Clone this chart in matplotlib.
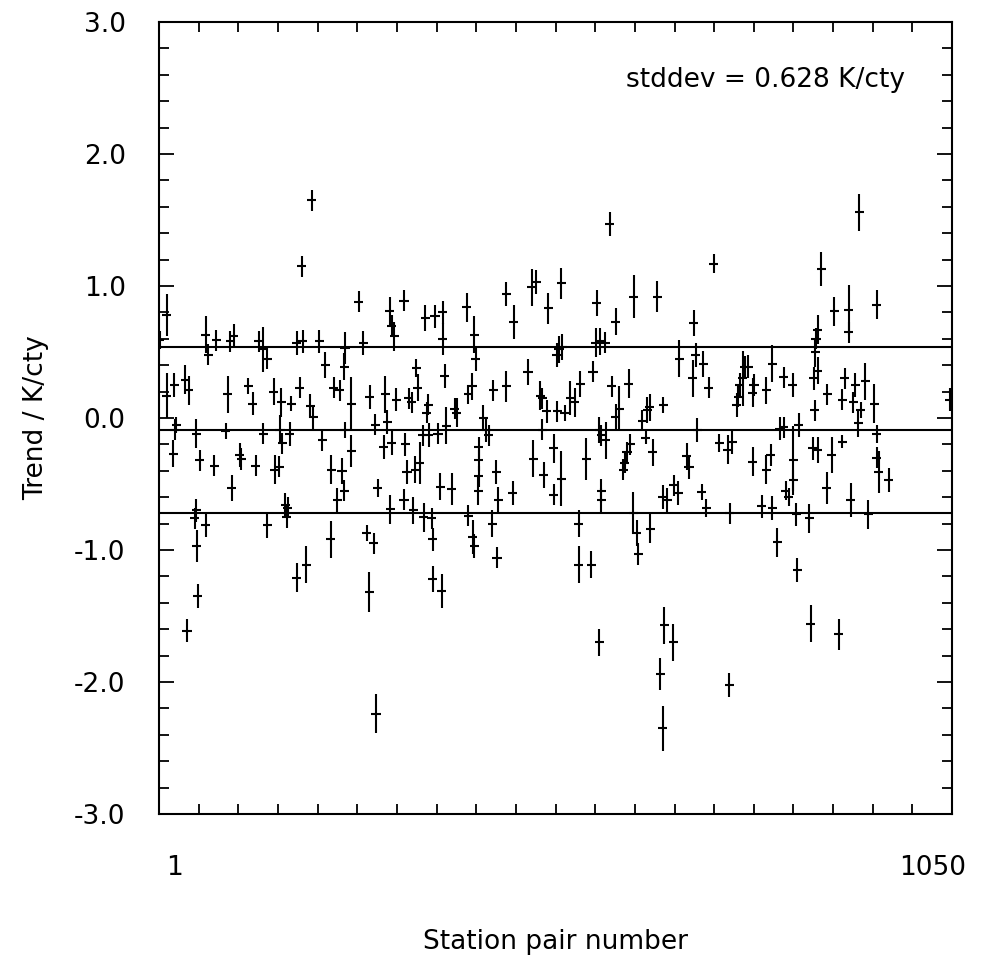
import matplotlib.pyplot as plt
from matplotlib.ticker import FixedLocator, MultipleLocator, NullFormatter

# Trend of the temperature difference for each station pair (K per century)
station = [
    2, 11, 11, 21, 24, 22, 20, 36, 40, 38, 48, 50, 51, 52, 50, 55, 63, 66, 63, 74,
    77, 89, 92, 95, 100, 97, 108, 110, 119, 125, 129, 133, 138, 139, 144, 144, 153, 154, 160, 161,
    164, 163, 168, 171, 170, 176, 174, 183, 183, 187, 190, 191, 196, 201, 205, 203, 213, 217, 221, 229,
    228, 232, 237, 240, 243, 246, 246, 247, 247, 255, 255, 265, 271, 276, 279, 280, 285, 287, 288, 290,
    298, 300, 303, 306, 309, 307, 309, 312, 315, 325, 325, 327, 329, 331, 335, 337, 340, 341, 343, 346,
    350, 351, 353, 355, 357, 358, 362, 363, 363, 366, 370, 373, 375, 376, 376, 379, 381, 388, 392, 395,
    408, 410, 410, 415, 416, 418, 418, 420, 424, 424, 424, 423, 430, 434, 437, 442, 443, 447, 448, 450,
    460, 460, 469, 470, 489, 494, 500, 496, 505, 508, 508, 510, 514, 516, 523, 523, 527, 530, 528, 533,
    533, 534, 538, 545, 551, 556, 556, 558, 566, 573, 575, 579, 580, 583, 583, 584, 586, 586, 586, 591,
    592, 597, 600, 605, 605, 610, 615, 617, 620, 622, 624, 628, 629, 633, 635, 640, 645, 647, 650, 651,
    654, 660, 664, 667, 667, 668, 669, 673, 681, 682, 688, 689, 699, 702, 707, 708, 711, 713, 719, 721,
    725, 728, 735, 742, 753, 755, 756, 759, 765, 767, 769, 773, 776, 780, 786, 788, 786, 798, 804, 804,
    810, 812, 812, 819, 822, 827, 827, 830, 834, 839, 840, 840, 844, 845, 847, 861, 863, 866, 867, 868,
    869, 870, 872, 872, 872, 877, 884, 885, 891, 894, 900, 905, 905, 908, 913, 913, 916, 919, 922, 926,
    927, 929, 935, 939, 947, 950, 950, 953, 950, 966, 1047,
]
trend = [
    0.59, 0.78, 0.17, 0.25, -0.05, -0.09, -0.27, 0.29, 0.21, -1.61, -0.76, -0.70, -0.97, -1.35, -0.12, -0.32, 0.63, 0.48, -0.81, -0.36,
    0.59, -0.10, 0.18, 0.58, 0.62, -0.53, -0.28, -0.31, 0.24, 0.11, -0.36, 0.58, 0.52, -0.12, 0.45, -0.81, 0.20, -0.39, -0.37, -0.09,
    -0.19, 0.12, -0.66, -0.68, -0.75, 0.11, -0.12, 0.57, -1.21, 0.23, 1.15, 0.58, -1.11, 0.09, 0.01, 1.65, 0.58, -0.17, 0.40, -0.39,
    -0.92, 0.23, -0.62, 0.21, -0.40, 0.39, -0.55, 0.53, -0.09, 0.11, -0.25, 0.88, 0.57, -0.87, -1.32, 0.16, -0.95, -0.05, -2.24, -0.53,
    -0.22, 0.18, -0.03, 0.81, 0.70, -0.69, -0.19, 0.62, 0.14, 0.89, -0.62, -0.20, -0.41, 0.15, 0.12, -0.70, -0.39, 0.38, 0.23, -0.34,
    -0.13, -0.75, 0.76, 0.04, 0.10, -0.13, -0.76, -0.92, -1.22, 0.77, -0.12, -0.52, -1.31, 0.80, 0.60, 0.32, -0.06, -0.54, 0.07, 0.04,
    0.84, 0.18, -0.74, 0.24, -0.90, 0.63, -0.97, 0.45, -0.22, -0.32, -0.44, -0.55, 0.00, -0.09, -0.13, -0.80, 0.21, -0.41, -1.06, -0.62,
    0.94, 0.24, -0.57, 0.73, 0.35, 0.99, 1.03, -0.31, 0.17, 0.15, -0.09, -0.43, 0.05, 0.83, -0.23, -0.58, 0.48, 0.52, 0.05, 1.02,
    -0.46, 0.54, 0.04, 0.15, 0.12, -0.80, -1.11, 0.26, -0.31, -1.11, 0.35, 0.57, 0.87, -1.70, -0.09, 0.58, -0.13, -0.55, -0.62, 0.57,
    -0.17, 1.47, 0.24, 0.73, 0.01, 0.07, -0.39, -0.34, -0.26, 0.26, -0.20, -0.72, 0.92, -0.87, -1.03, -0.02, -0.15, 0.06, 0.08, -0.84,
    -0.26, 0.92, -1.94, -2.35, -0.60, 0.10, -1.57, -0.62, -1.70, -0.51, -0.57, 0.45, -0.29, -0.37, 0.30, 0.72, 0.48, -0.09, -0.56, 0.41,
    -0.68, 0.23, 1.17, -0.19, -0.24, -2.02, -0.72, -0.18, 0.10, 0.16, 0.25, 0.30, 0.39, 0.39, 0.19, 0.25, -0.33, -0.67, 0.21, -0.39,
    -0.28, -0.68, 0.41, -0.94, -0.08, -0.07, 0.31, -0.55, -0.60, 0.25, -0.32, -0.47, -0.73, -1.15, -0.05, -0.76, -1.56, -0.23, 0.30, 0.06,
    0.50, 0.60, 0.36, 0.67, -0.24, 1.13, -0.53, 0.18, -0.28, 0.81, -1.64, -0.18, 0.14, 0.30, 0.82, 0.65, -0.62, 0.12, 0.25, -0.04,
    1.56, 0.06, 0.28, -0.73, 0.11, -0.12, -0.30, -0.41, 0.86, -0.47, 0.14,
]
trend_err = [
    0.07, 0.16, 0.17, 0.09, 0.06, 0.08, 0.10, 0.11, 0.11, 0.09, 0.08, 0.09, 0.12, 0.09, 0.11, 0.08, 0.14, 0.08, 0.09, 0.08,
    0.08, 0.06, 0.14, 0.08, 0.09, 0.10, 0.09, 0.08, 0.06, 0.09, 0.08, 0.08, 0.17, 0.08, 0.08, 0.10, 0.10, 0.11, 0.08, 0.11,
    0.08, 0.11, 0.09, 0.08, 0.08, 0.06, 0.09, 0.09, 0.11, 0.08, 0.08, 0.09, 0.14, 0.09, 0.09, 0.08, 0.09, 0.08, 0.10, 0.11,
    0.14, 0.08, 0.09, 0.08, 0.10, 0.10, 0.08, 0.12, 0.06, 0.20, 0.12, 0.08, 0.09, 0.06, 0.15, 0.09, 0.08, 0.08, 0.15, 0.07,
    0.09, 0.14, 0.09, 0.11, 0.08, 0.11, 0.09, 0.11, 0.09, 0.08, 0.08, 0.09, 0.09, 0.08, 0.08, 0.10, 0.10, 0.07, 0.10, 0.16,
    0.08, 0.11, 0.10, 0.08, 0.08, 0.09, 0.08, 0.09, 0.10, 0.09, 0.08, 0.10, 0.13, 0.09, 0.12, 0.09, 0.14, 0.12, 0.08, 0.11,
    0.11, 0.07, 0.08, 0.10, 0.13, 0.14, 0.09, 0.09, 0.08, 0.08, 0.08, 0.11, 0.10, 0.09, 0.08, 0.10, 0.08, 0.09, 0.08, 0.10,
    0.09, 0.12, 0.09, 0.13, 0.10, 0.14, 0.09, 0.14, 0.11, 0.08, 0.08, 0.10, 0.09, 0.12, 0.11, 0.08, 0.09, 0.10, 0.08, 0.12,
    0.21, 0.10, 0.06, 0.13, 0.11, 0.10, 0.14, 0.10, 0.16, 0.10, 0.08, 0.11, 0.10, 0.10, 0.10, 0.10, 0.08, 0.09, 0.09, 0.08,
    0.14, 0.09, 0.08, 0.10, 0.10, 0.17, 0.08, 0.08, 0.08, 0.11, 0.08, 0.16, 0.16, 0.10, 0.08, 0.08, 0.05, 0.10, 0.10, 0.11,
    0.10, 0.12, 0.12, 0.17, 0.09, 0.06, 0.14, 0.09, 0.14, 0.08, 0.09, 0.14, 0.10, 0.09, 0.14, 0.10, 0.09, 0.09, 0.06, 0.10,
    0.07, 0.08, 0.07, 0.07, 0.11, 0.09, 0.08, 0.09, 0.09, 0.08, 0.09, 0.21, 0.08, 0.09, 0.11, 0.08, 0.11, 0.09, 0.10, 0.11,
    0.08, 0.09, 0.14, 0.11, 0.09, 0.08, 0.08, 0.07, 0.07, 0.09, 0.26, 0.08, 0.09, 0.09, 0.09, 0.11, 0.14, 0.09, 0.09, 0.08,
    0.11, 0.08, 0.10, 0.11, 0.10, 0.13, 0.12, 0.08, 0.14, 0.11, 0.12, 0.05, 0.08, 0.08, 0.19, 0.08, 0.13, 0.08, 0.09, 0.10,
    0.14, 0.06, 0.14, 0.11, 0.15, 0.07, 0.08, 0.16, 0.11, 0.09, 0.09,
]
station_err = 6  # half-width of the horizontal bar, in station numbers

MEAN = -0.09
STDDEV = 0.628
N_PAIRS = 1050

fig = plt.figure(figsize=(9.84, 9.61), dpi=100)
ax = fig.add_axes([0.1616, 0.153, 0.806, 0.824])

ax.errorbar(station, trend, yerr=trend_err, xerr=station_err, fmt='none',
            ecolor='black', elinewidth=1.5, capsize=0)

for level in (MEAN + STDDEV, MEAN, MEAN - STDDEV):
    ax.axhline(level, color='black', lw=1.5)

ax.set_xlim(1, N_PAIRS)
ax.set_ylim(-3.0, 3.0)

# x axis: unlabelled ticks every 1/20 of the range, end labels drawn as text
step = (N_PAIRS - 1) / 20
ax.xaxis.set_major_locator(FixedLocator([1 + step * i for i in range(1, 20)]))
ax.xaxis.set_major_formatter(NullFormatter())
ax.tick_params(axis='x', which='major', direction='in', length=7, width=1.3,
               top=True, bottom=True)

ax.yaxis.set_major_locator(MultipleLocator(1.0))
ax.yaxis.set_minor_locator(MultipleLocator(0.2))
ax.set_yticklabels([f'{v:.1f}' for v in ax.get_yticks()])
ax.tick_params(axis='y', which='major', direction='in', length=11, width=1.3,
               left=True, right=True, labelsize=19, pad=24)
ax.tick_params(axis='y', which='minor', direction='in', length=7.5, width=1.3,
               left=True, right=True)

for side in ax.spines.values():
    side.set_linewidth(1.5)

ax.text(0.02, -0.068, '1', transform=ax.transAxes, ha='center', va='center', fontsize=19)
ax.text(0.976, -0.068, '1050', transform=ax.transAxes, ha='center', va='center', fontsize=19)

ax.text(0.94, 0.927, f'stddev = {STDDEV:.3f} K/cty', transform=ax.transAxes,
        ha='right', va='center', fontsize=19)

ax.set_xlabel('Station pair number', fontsize=19, va='center')
ax.xaxis.set_label_coords(0.5, -0.162)
ax.set_ylabel('Trend / K/cty', fontsize=19, labelpad=18)

fig.savefig('out.png', dpi=100)
